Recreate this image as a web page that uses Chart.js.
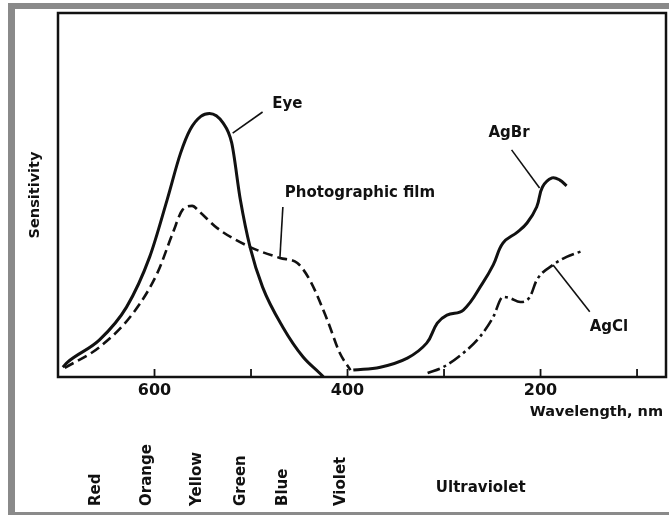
<!DOCTYPE html>
<html>
<head>
<meta charset="utf-8">
<script src="https://cdn.jsdelivr.net/npm/chart.js@4.4.1/dist/chart.umd.min.js"></script>
<style>
  body { margin: 0; background: #fff; overflow: hidden; }
  #wrap { position: relative; width: 669px; height: 515px; }
  #edge {
    position: absolute; left: 8px; top: 3px; width: 700px; height: 515px;
    box-sizing: border-box; background: #fff;
    border-left: 7px solid #8a8a8a; border-top: 6px solid #8a8a8a; border-bottom: 6px solid #8a8a8a;
  }
  canvas { position: absolute; left: 0; top: 0; }
</style>
</head>
<body>
<div id="wrap">
  <div id="edge"></div>
  <canvas id="spectrum" width="669" height="515"></canvas>
</div>
<script>
// wavelength (nm) / relative sensitivity
const eyeNm   = [695, 690, 657, 629, 605, 587, 573, 563, 552, 543, 529, 520, 511, 501, 488, 467, 446, 429, 425];
const eyeVal  = [2.7, 4.1, 10.2, 19.2, 33.0, 48.6, 61.5, 68.0, 71.6, 72.4, 69.8, 64.3, 48.6, 35.7, 24.7, 13.7, 5.5, 1.1, 0];

const filmNm  = [693, 657, 622, 597, 581, 571, 561, 553, 535, 501, 470, 452, 439, 421, 408, 397];
const filmVal = [2.5, 8.2, 17.6, 28.6, 39.6, 45.9, 47.0, 45.3, 40.9, 35.7, 32.7, 31.3, 26.6, 15.7, 6.6, 1.9];

const agbrNm  = [394, 366, 338, 318, 307, 297, 280, 260, 249, 239, 224, 214, 204, 198, 188, 180, 173];
const agbrVal = [1.9, 2.7, 5.2, 9.3, 14.8, 17.0, 18.4, 25.8, 30.8, 36.8, 39.8, 42.3, 46.7, 52.2, 54.7, 54.1, 52.5];

const agclNm  = [317, 301, 280, 263, 249, 239, 232, 221, 211, 204, 187, 173, 157];
const agclVal = [1.1, 2.7, 6.6, 11.0, 16.5, 22.0, 21.7, 20.6, 22.0, 26.6, 30.8, 33.0, 34.6];

// x axis
const tickStep = 100;
const tickLabels = [600, 400, 200];
const xTitle = "Wavelength, nm";

// curve labels and their leader lines (data coordinates)
const labelNames = ["Eye", "Photographic film", "AgBr", "AgCl"];
const labelNm    = [478, 465, 254, 149];
const labelVal   = [75.1, 50.4, 66.9, 13.6];
const leaderNm   = [[488, 519], [467, 470], [230, 201], [149, 187]];
const leaderVal  = [[72.8, 67.0], [46.7, 33.0], [62.4, 51.9], [17.9, 30.8]];

// spectrum band names under the axis
const bandNames = ["Red", "Orange", "Yellow", "Green", "Blue", "Violet"];
const bandNm    = [660, 608, 556, 510, 467, 407];
const uvName = "Ultraviolet";
const uvNm = 262;

const ink = "#111";
const FONT = "'DejaVu Sans', sans-serif";

function pts(xs, ys) {
  return xs.map((x, i) => ({ x: x, y: ys[i] }));
}

const curves = [
  { data: pts(eyeNm, eyeVal), borderWidth: 3, borderDash: [], cubicInterpolationMode: "monotone" },
  { data: pts(filmNm, filmVal), borderWidth: 2.6, borderDash: [10, 5], cubicInterpolationMode: "monotone" },
  { data: pts(agbrNm, agbrVal), borderWidth: 3, borderDash: [] },
  { data: pts(agclNm, agclVal), borderWidth: 2.6, borderDash: [13, 4, 3, 4], cubicInterpolationMode: "monotone" }
];

const leaders = leaderNm.map((xs, i) => ({
  data: pts(xs, leaderVal[i]), borderWidth: 1.6, borderDash: [], tension: 0
}));

const decor = {
  id: "decor",
  afterDatasetsDraw(chart) {
    const { ctx, chartArea: a, scales: { x, y } } = chart;
    ctx.save();
    // frame
    ctx.strokeStyle = ink;
    ctx.lineWidth = 2.5;
    ctx.strokeRect(a.left, a.top, a.right - a.left, a.bottom - a.top);
    // inward tick marks
    ctx.lineWidth = 1.8;
    for (let v = tickStep; v < x.max + 1; v += tickStep) {
      const px = x.getPixelForValue(v);
      if (px <= a.left + 2) continue;
      ctx.beginPath();
      ctx.moveTo(px, a.bottom);
      ctx.lineTo(px, a.bottom - 8);
      ctx.stroke();
    }
    ctx.fillStyle = ink;
    ctx.textBaseline = "middle";
    // axis title, right aligned under the end of the axis
    ctx.font = "bold 14.5px " + FONT;
    ctx.textAlign = "right";
    ctx.fillText(xTitle, a.right - 3, 412);
    // curve labels
    ctx.font = "bold 15px " + FONT;
    ctx.textAlign = "left";
    labelNames.forEach((t, i) => {
      ctx.fillText(t, x.getPixelForValue(labelNm[i]), y.getPixelForValue(labelVal[i]));
    });
    // band names, rotated
    bandNames.forEach((t, i) => {
      ctx.save();
      ctx.translate(x.getPixelForValue(bandNm[i]), 506);
      ctx.rotate(-Math.PI / 2);
      ctx.fillText(t, 0, 0);
      ctx.restore();
    });
    ctx.textAlign = "center";
    ctx.fillText(uvName, x.getPixelForValue(uvNm), 488);
    ctx.restore();
  }
};

new Chart(document.getElementById("spectrum"), {
  type: "line",
  data: {
    datasets: curves.concat(leaders).map(d => Object.assign({
      borderColor: ink,
      pointRadius: 0,
      fill: false,
      tension: 0.4,
      borderCapStyle: "butt",
      borderJoinStyle: "round"
    }, d))
  },
  options: {
    responsive: false,
    animation: false,
    devicePixelRatio: 1,
    layout: { padding: { left: 0, top: 13, right: 3, bottom: 0 } },
    plugins: { legend: { display: false }, tooltip: { enabled: false } },
    scales: {
      x: {
        type: "linear",
        reverse: true,
        min: 70,
        max: 700,
        grid: { display: false, drawTicks: false },
        border: { display: false },
        ticks: {
          stepSize: tickStep,
          includeBounds: false,
          autoSkip: false,
          maxRotation: 0,
          padding: 4,
          color: ink,
          font: { family: FONT, size: 16, weight: "bold" },
          callback: v => tickLabels.includes(v) ? String(v) : ""
        },
        afterFit: s => { s.height = 138; }
      },
      y: {
        min: 0,
        max: 100,
        grid: { display: false, drawTicks: false },
        border: { display: false },
        ticks: { display: false },
        title: {
          display: true,
          text: "Sensitivity",
          color: ink,
          font: { family: FONT, size: 14.5, weight: "bold" },
          padding: { top: 27, bottom: 0 }
        },
        afterFit: s => { s.width = 58; }
      }
    }
  },
  plugins: [decor]
});
</script>
</body>
</html>
